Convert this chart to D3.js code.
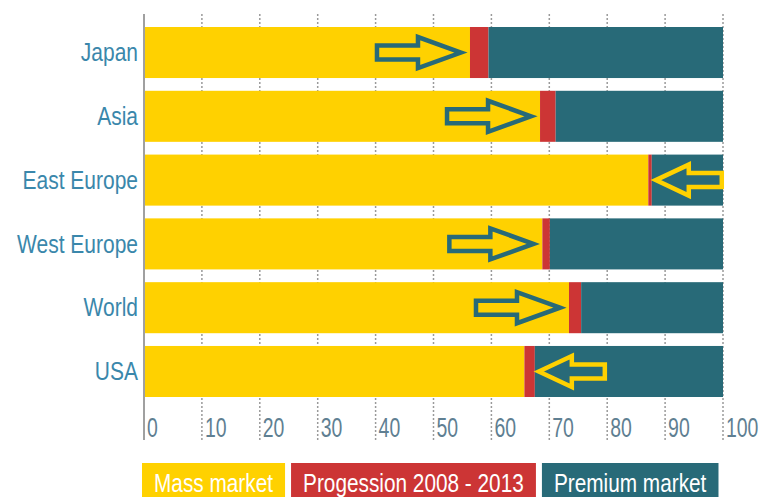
<!DOCTYPE html>
<html>
<head>
<meta charset="utf-8">
<script src="https://cdn.jsdelivr.net/npm/d3@7"></script>
<style>
  html, body { margin: 0; padding: 0; background: #fff; }
  svg { display: block; }
  text { font-family: 'Liberation Sans', Arial, sans-serif; }
</style>
</head>
<body>
<div id="chart"></div>
<script>
// data (percent of market)
const regions = ['Japan', 'Asia', 'East Europe', 'West Europe', 'World', 'USA'];
const massMarket = [56.3, 68.4, 87.1, 68.8, 73.4, 65.7];
const progression = [3.2, 2.7, 0.6, 1.3, 2.1, 1.8];
const premiumMarket = regions.map((_, i) => +(100 - massMarket[i] - progression[i]).toFixed(1));
// direction of the trend arrow in each row
const arrowDir = ['right', 'right', 'left', 'right', 'right', 'left'];
const xTicks = [0, 10, 20, 30, 40, 50, 60, 70, 80, 90, 100];
const seriesNames = ['Mass market', 'Progession 2008 - 2013', 'Premium market'];

const colors = ['#FFD100', '#CC3535', '#286A78'];
const width = 761, height = 497;

const svg = d3.select('#chart').append('svg')
  .attr('width', width).attr('height', height);

const x = d3.scaleLinear().domain([0, 100]).range([144, 723]);
const y = d3.scaleBand().domain(regions).range([27, 397]).paddingInner(0.2).paddingOuter(0);

// dotted gridlines
svg.append('g')
  .selectAll('line')
  .data(xTicks.filter(d => d > 0))
  .enter()
  .append('line')
  .attr('x1', d => x(d)).attr('x2', d => x(d))
  .attr('y1', 14).attr('y2', 440)
  .attr('stroke', '#9a9a9a')
  .attr('stroke-width', 1.5)
  .attr('stroke-dasharray', '2,2');

// stacked bars
const stack = d3.stack().keys([0, 1, 2]).value((d, k) => d[k]);
const rows = regions.map((r, i) => [massMarket[i], progression[i], premiumMarket[i]]);
const layers = stack(rows);

svg.append('g')
  .selectAll('g')
  .data(layers)
  .enter()
  .append('g')
  .attr('fill', (d, i) => colors[i])
  .selectAll('rect')
  .data(d => d)
  .enter()
  .append('rect')
  .attr('x', d => x(d[0]))
  .attr('width', d => x(d[1]) - x(d[0]))
  .attr('y', (d, i) => y(regions[i]))
  .attr('height', y.bandwidth());

// axis line
svg.append('line')
  .attr('x1', x(0)).attr('x2', x(0))
  .attr('y1', 14).attr('y2', 440)
  .attr('stroke', '#a0a0a0')
  .attr('stroke-width', 2);

// category labels (squeezed to look like a narrow face)
svg.append('g')
  .selectAll('text')
  .data(regions)
  .enter()
  .append('text')
  .attr('transform', d => `translate(${x(0) - 6},${y(d) + y.bandwidth() / 2}) scale(0.84,1)`)
  .attr('dy', '0.35em')
  .attr('text-anchor', 'end')
  .attr('font-size', 25)
  .attr('fill', '#3a87ab')
  .text(d => d);

// tick labels
svg.append('g')
  .selectAll('text')
  .data(xTicks)
  .enter()
  .append('text')
  .attr('transform', d => `translate(${x(d) + 3},437) scale(0.72,1)`)
  .attr('font-size', 27)
  .attr('fill', '#5f7f92')
  .text(d => d);

// trend arrows
function arrowPath(tipX, cy, dir) {
  const L = dir === 'right' ? 84 : 66;
  const H = dir === 'right' ? 43 : 33;
  const s = 7, h = 15.5;
  const k = dir === 'right' ? -1 : 1;
  const pts = [
    [tipX, cy],
    [tipX + k * H, cy - h],
    [tipX + k * H, cy - s],
    [tipX + k * L, cy - s],
    [tipX + k * L, cy + s],
    [tipX + k * H, cy + s],
    [tipX + k * H, cy + h]
  ];
  return 'M' + pts.map(p => p.join(',')).join('L') + 'Z';
}

svg.append('g')
  .selectAll('path')
  .data(regions)
  .enter()
  .append('path')
  .attr('d', (d, i) => {
    const cy = y(d) + y.bandwidth() / 2;
    if (arrowDir[i] === 'right') return arrowPath(x(massMarket[i]) - 9, cy, 'right');
    return arrowPath(x(massMarket[i] + progression[i]) + 4, cy, 'left');
  })
  .attr('fill', (d, i) => arrowDir[i] === 'right' ? colors[0] : colors[2])
  .attr('stroke', (d, i) => arrowDir[i] === 'right' ? colors[2] : colors[0])
  .attr('stroke-width', 4.5)
  .attr('stroke-linejoin', 'miter');

// legend
const legend = svg.append('g');
const legScale = 0.8;
let lx = 142;
seriesNames.forEach((name, i) => {
  const g = legend.append('g');
  const rect = g.append('rect').attr('y', 463).attr('height', 40).attr('fill', colors[i]);
  const t = g.append('text')
    .attr('font-size', 26)
    .attr('fill', '#fff')
    .text(name);
  const tw = t.node().getComputedTextLength() * legScale;
  const pad = 12;
  rect.attr('x', lx).attr('width', tw + pad * 2);
  t.attr('transform', `translate(${lx + pad},492) scale(${legScale},1)`);
  lx += tw + pad * 2 + 6;
});
</script>
</body>
</html>
